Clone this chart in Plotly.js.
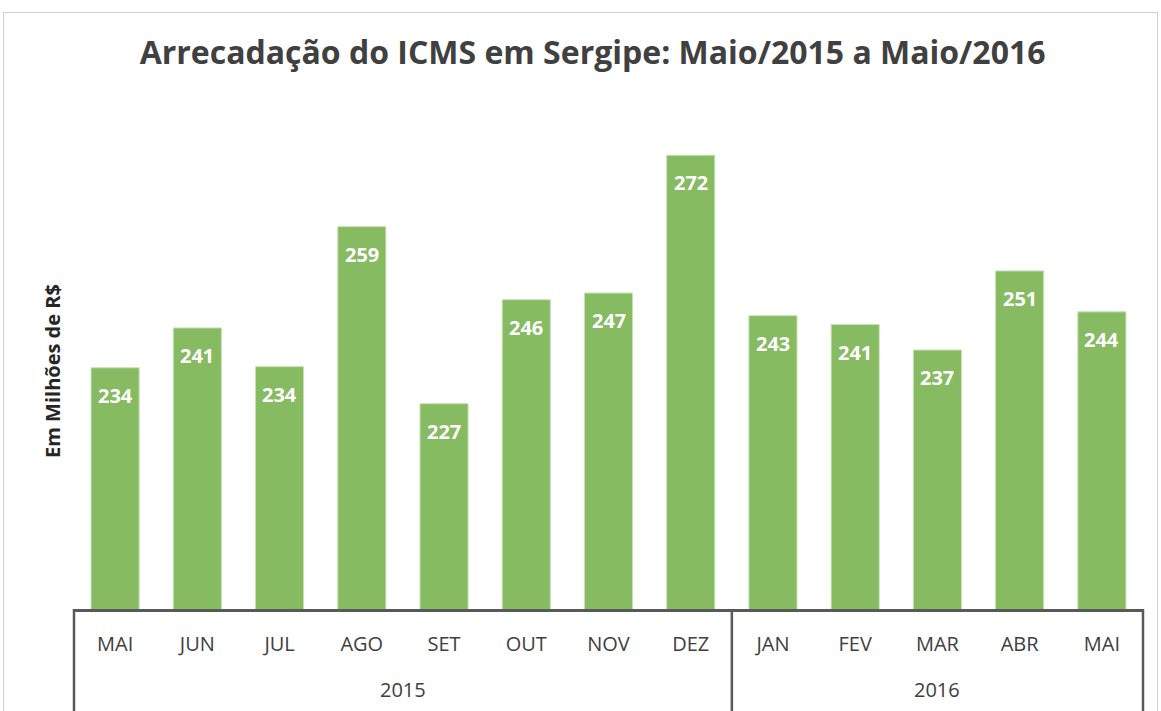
<!DOCTYPE html>
<html>
<head>
<meta charset="utf-8">
<script src="https://cdn.plot.ly/plotly-3.0.1.min.js"></script>
<style>
html,body{margin:0;padding:0;overflow:hidden;background:#fff;width:1161px;height:711px;}
#frame{position:absolute;left:3px;top:12px;width:1155px;height:720px;border:1px solid #d0d0d0;box-sizing:border-box;}
#chart{width:1153px;height:718px;}
</style>
</head>
<body>
<div id="frame"><div id="chart"></div></div>
<script>
const years = ["2015","2015","2015","2015","2015","2015","2015","2015","2016","2016","2016","2016","2016"];
const months = ["MAI","JUN","JUL","AGO","SET","OUT","NOV","DEZ","JAN","FEV","MAR","ABR","MAI"];
const values = [233.6, 240.8, 233.8, 259.1, 227.1, 245.9, 247.1, 272.0, 243.0, 241.4, 236.8, 251.1, 243.7];

const idx = months.map((m, i) => i);
const n = months.length;
const FONT = 'Open Sans, sans-serif';

const trace = {
  type: 'bar',
  x: idx,
  y: values,
  marker: {color: '#86bb62', line: {color: '#c9e0b8', width: 1}},
  hoverinfo: 'none',
  showlegend: false
};

const annotations = [];
// value labels inside bars
values.forEach((v, i) => annotations.push({
  x: i, y: v, xref: 'x', yref: 'y',
  text: '<b>' + Math.round(v) + '</b>',
  showarrow: false, yanchor: 'top', yshift: -12,
  font: {family: FONT, size: 20, color: '#ffffff'}
}));
// year group labels and dividers
const shapes = [];
const groups = [];
years.forEach((y, i) => {
  if (i === 0 || years[i - 1] !== y) groups.push({year: y, start: i, end: i});
  else groups[groups.length - 1].end = i;
});
groups.forEach(g => {
  annotations.push({
    x: (g.start + g.end) / 2, y: 0, xref: 'x', yref: 'paper',
    text: g.year, showarrow: false, yanchor: 'middle', yshift: -80,
    font: {family: FONT, size: 20, color: '#404040'}
  });
});
const bounds = [0];
groups.forEach(g => bounds.push(g.end + 1));
bounds.forEach(b => shapes.push({
  type: 'line', xref: 'paper', yref: 'paper',
  x0: b / n, x1: b / n, y0: 0, y1: -0.3,
  line: {color: '#595959', width: 2.5}
}));
// axis title
annotations.push({
  x: 0, y: 0.478, xref: 'paper', yref: 'paper', xshift: -21,
  text: '<b>Em Milhões de R$</b>', textangle: -90, showarrow: false,
  xanchor: 'center', yanchor: 'middle',
  font: {family: FONT, size: 20, color: '#262626'}
});

const layout = {
  width: 1153, height: 718,
  margin: {l: 70, r: 14, t: 98, b: 122},
  paper_bgcolor: '#ffffff',
  plot_bgcolor: '#ffffff',
  bargap: 0.415,
  title: {
    text: '<b>Arrecadação do ICMS em Sergipe: Maio/2015 a Maio/2016</b>',
    font: {family: FONT, size: 32, color: '#404040'},
    x: 0.5105, xanchor: 'center', y: 0.945, yanchor: 'middle'
  },
  xaxis: {
    range: [-0.5, n - 0.5],
    tickmode: 'array', tickvals: idx, ticktext: months,
    showline: true, linecolor: '#595959', linewidth: 2.5,
    ticks: '', ticklabelstandoff: 15,
    tickfont: {family: FONT, size: 20, color: '#404040'},
    showgrid: false, zeroline: false
  },
  yaxis: {
    range: [190, 280],
    showticklabels: false, showgrid: false, zeroline: false, showline: false, ticks: ''
  },
  annotations: annotations,
  shapes: shapes
};

Plotly.newPlot('chart', [trace], layout, {displayModeBar: false, staticPlot: true});
</script>
</body>
</html>
